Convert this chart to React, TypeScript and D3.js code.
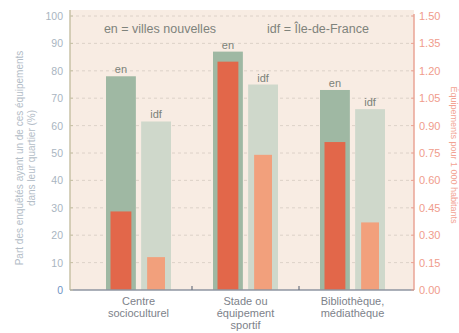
import React, { useEffect, useRef } from 'react';
import * as d3 from 'd3';

const categories = ['Centre\nsocioculturel', 'Stade ou\néquipement\nsportif', 'Bibliothèque,\nmédiathèque'];
const seriesKeys = ['en', 'idf'];
const sharePct = {
  en: [78, 87, 73],
  idf: [61.5, 75, 66],
};
const perThousand = {
  en: [0.43, 1.25, 0.81],
  idf: [0.18, 0.74, 0.37],
};
const leftTicks = [0, 10, 20, 30, 40, 50, 60, 70, 80, 90, 100];
const rightTicks = [0, 0.15, 0.3, 0.45, 0.6, 0.75, 0.9, 1.05, 1.2, 1.35, 1.5];
const legendItems = ['en = villes nouvelles', 'idf = Île-de-France'];

const FONT = '"Liberation Sans", Arial, sans-serif';

const App = () => {
  const svgRef = useRef<SVGSVGElement | null>(null);

  useEffect(() => {
    const plot = { left: 70, right: 414, top: 10, bottom: 290 };

    const svg = d3.select(svgRef.current);
    svg.selectAll('*').remove();

    const yL = d3.scaleLinear().domain([0, 100]).range([290, 16]);
    const yR = d3.scaleLinear().domain([0, 1.5]).range([290, 16]);
    const x = d3.scaleBand().domain(categories).range([85, 406]).padding(0);
    const xs = d3.scaleBand().domain(seriesKeys).range([21, 86]).paddingInner(0.15);

    // background
    svg
      .append('rect')
      .attr('x', plot.left)
      .attr('y', plot.top)
      .attr('width', plot.right - plot.left)
      .attr('height', plot.bottom - plot.top)
      .attr('fill', '#f8ece3');

    // gridlines
    svg
      .append('g')
      .selectAll('line')
      .data(leftTicks.filter((t) => t > 0))
      .enter()
      .append('line')
      .attr('x1', plot.left)
      .attr('x2', plot.right)
      .attr('y1', (d) => yL(d))
      .attr('y2', (d) => yL(d))
      .attr('stroke', '#d6cbc2')
      .attr('stroke-width', 0.8)
      .attr('stroke-dasharray', '3,3');

    // bars
    const groups = svg
      .append('g')
      .selectAll('g')
      .data(categories)
      .enter()
      .append('g')
      .attr('transform', (d) => `translate(${x(d)},0)`);

    seriesKeys.forEach((key) => {
      const bx = xs(key)!;
      const bw = xs.bandwidth();
      const inset = key === 'en' ? 4.5 : 6;
      groups
        .append('rect')
        .attr('x', bx)
        .attr('y', (d, i) => yL(sharePct[key][i]))
        .attr('width', bw)
        .attr('height', (d, i) => 290 - yL(sharePct[key][i]))
        .attr('fill', key === 'en' ? '#9fb8a3' : '#cfd8cb');
      groups
        .append('rect')
        .attr('x', bx + inset)
        .attr('y', (d, i) => yR(perThousand[key][i]))
        .attr('width', bw - inset * 2)
        .attr('height', (d, i) => 290 - yR(perThousand[key][i]))
        .attr('fill', key === 'en' ? '#e2674a' : '#f2a07c');
      groups
        .append('text')
        .attr('x', bx + bw / 2)
        .attr('y', (d, i) => yL(sharePct[key][i]) - 3)
        .attr('text-anchor', 'middle')
        .attr('font-size', 11)
        .attr('font-family', FONT)
        .attr('fill', '#7b8279')
        .text(key);
    });

    // axes lines
    svg
      .append('line')
      .attr('x1', plot.left)
      .attr('x2', plot.left)
      .attr('y1', plot.top)
      .attr('y2', plot.bottom)
      .attr('stroke', '#c8c2a6')
      .attr('stroke-width', 1.5);
    svg
      .append('line')
      .attr('x1', plot.right)
      .attr('x2', plot.right)
      .attr('y1', plot.top + 4)
      .attr('y2', plot.bottom)
      .attr('stroke', '#eaa596')
      .attr('stroke-width', 1.5);
    svg
      .append('line')
      .attr('x1', plot.left)
      .attr('x2', plot.right)
      .attr('y1', plot.bottom)
      .attr('y2', plot.bottom)
      .attr('stroke', '#8f96a2')
      .attr('stroke-width', 1.5);

    // category separators
    svg
      .append('g')
      .selectAll('line')
      .data(categories.slice(1))
      .enter()
      .append('line')
      .attr('x1', (d) => x(d)!)
      .attr('x2', (d) => x(d)!)
      .attr('y1', plot.bottom - 4)
      .attr('y2', plot.bottom)
      .attr('stroke', '#6d7480')
      .attr('stroke-width', 1.2);

    // left ticks
    svg
      .append('g')
      .selectAll('text')
      .data(leftTicks)
      .enter()
      .append('text')
      .attr('x', 63)
      .attr('y', (d) => yL(d) + 4)
      .attr('text-anchor', 'end')
      .attr('font-size', 10.5)
      .attr('font-family', FONT)
      .attr('fill', (d) => (d === 0 ? '#6f93c4' : '#a9b5c1'))
      .text((d) => d);

    svg
      .append('g')
      .selectAll('line')
      .data(leftTicks)
      .enter()
      .append('line')
      .attr('x1', plot.left)
      .attr('x2', plot.left + 3)
      .attr('y1', (d) => yL(d))
      .attr('y2', (d) => yL(d))
      .attr('stroke', '#c8c2a6');

    // right ticks
    svg
      .append('g')
      .selectAll('text')
      .data(rightTicks)
      .enter()
      .append('text')
      .attr('x', 419)
      .attr('y', (d) => yR(d) + 4)
      .attr('text-anchor', 'start')
      .attr('font-size', 11)
      .attr('font-family', FONT)
      .attr('fill', '#f09c8c')
      .text((d) => d3.format('.2f')(d));

    svg
      .append('g')
      .selectAll('line')
      .data(rightTicks)
      .enter()
      .append('line')
      .attr('x1', plot.right - 3)
      .attr('x2', plot.right)
      .attr('y1', (d) => yR(d))
      .attr('y2', (d) => yR(d))
      .attr('stroke', '#eaa596');

    // legend
    svg
      .append('g')
      .selectAll('text')
      .data(legendItems)
      .enter()
      .append('text')
      .attr('x', (d, i) => (i === 0 ? 160 : 318))
      .attr('y', 33)
      .attr('text-anchor', 'middle')
      .attr('font-size', 12.5)
      .attr('font-family', FONT)
      .attr('fill', '#7f837c')
      .text((d) => d);

    // category labels (third line squeezed to stay inside the frame)
    categories.forEach((c) => {
      const cx = x(c)! + x.bandwidth() / 2;
      const t = svg
        .append('text')
        .attr('x', cx)
        .attr('y', 305)
        .attr('text-anchor', 'middle')
        .attr('font-size', 11)
        .attr('font-family', FONT)
        .attr('fill', '#7d828a');
      c.split('\n').forEach((line, i) => {
        t.append('tspan')
          .attr('x', cx)
          .attr('dy', i === 0 ? 0 : 12)
          .text(line);
      });
    });

    // axis titles
    const lt = svg
      .append('text')
      .attr('transform', 'translate(23,158) rotate(-90)')
      .attr('text-anchor', 'middle')
      .attr('font-size', 10)
      .attr('font-family', FONT)
      .attr('fill', '#b3bdc7');
    lt.append('tspan').attr('x', 0).attr('dy', 0).text('Part des enquêtés ayant un de ces équipements');
    lt.append('tspan').attr('x', 0).attr('dy', 12).text('dans leur quartier (%)');

    svg
      .append('text')
      .attr('transform', 'translate(451,155) rotate(90)')
      .attr('text-anchor', 'middle')
      .attr('font-size', 9)
      .attr('font-family', FONT)
      .attr('fill', '#f2a393')
      .text('Équipements pour 1 000 habitants');
  }, []);

  return (
    <svg
      ref={svgRef}
      width={459}
      height={333}
      style={{ position: 'absolute', left: 0, top: 0, background: '#ffffff' }}
    ></svg>
  );
};

export default App;
